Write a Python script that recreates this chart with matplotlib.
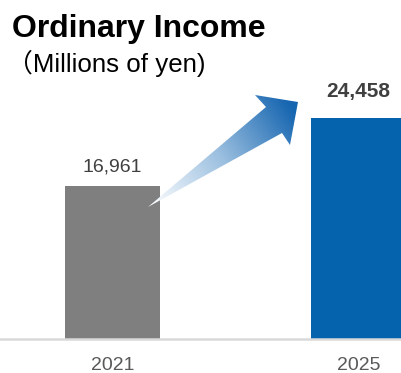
import numpy as np
import matplotlib
matplotlib.use('Agg')
import matplotlib.pyplot as plt
from matplotlib.patches import Polygon
from matplotlib.colors import LinearSegmentedColormap

plt.rcParams['font.family'] = ['Liberation Sans', 'Noto Sans CJK JP', 'DejaVu Sans']

# Data
years = ['2021', '2025']
income = [16961, 24458]
bar_colors = ['#7f7f7f', '#0563ae']

W, H = 401, 373
fig = plt.figure(figsize=(W / 100, H / 100), dpi=100)

# Main axes: bottom at baseline (y=339 px from top)
base_px = 339
ax = fig.add_axes([0, (H - base_px) / H, 1, base_px / H])
px_per_unit = 153 / 16961
ax.set_ylim(0, base_px / px_per_unit)
spacing = 246.0
ax.set_xlim(-112.5 / spacing, 1 + (W - 358.5) / spacing)
x = np.arange(len(years))
ax.bar(x, income, width=95 / spacing, color=bar_colors, zorder=2)
ax.axis('off')
ax.axhline(0, color='#d9d9d9', lw=1.8, zorder=3, clip_on=False)

# value labels
ax.text(x[0], income[0] + 14 / px_per_unit, f'{income[0]:,}', ha='center', va='baseline',
        fontsize=14, color='#404040')
ax.text(x[1], income[1] + 21 / px_per_unit, f'{income[1]:,}', ha='center', va='baseline',
        fontsize=15, color='#404040', fontweight='bold')

# year labels
for xi, yr in zip(x, years):
    ax.text(xi, -31 / px_per_unit, yr, ha='center', va='baseline', fontsize=14,
            color='#595959', clip_on=False)

# Overlay axes in pixel coordinates for titles and the gradient arrow
ov = fig.add_axes([0, 0, 1, 1])
ov.set_xlim(0, W)
ov.set_ylim(H, 0)
ov.axis('off')

ov.text(12, 37, 'Ordinary Income', fontsize=23, fontweight='bold', color='black',
        va='baseline', ha='left')
ov.text(7, 72, '（Millions of yen)', fontsize=18.6, color='black', va='baseline', ha='left')

# gradient arrow
arrow_pts = np.array([[148, 207], [266, 107], [255, 95], [298, 102],
                      [290, 145], [282, 133]])
tail = np.array([148, 207])
tip = np.array([294, 110])
d = (tip - tail) / np.linalg.norm(tip - tail)
gx, gy = np.meshgrid(np.arange(140, 305), np.arange(90, 215))
t = ((gx - tail[0]) * d[0] + (gy - tail[1]) * d[1]) / np.linalg.norm(tip - tail)
t = np.clip(t, 0, 1)
cmap = LinearSegmentedColormap.from_list('arr', ['#ffffff', '#9cc0e0', '#1565b0'])
im = ov.imshow(t, cmap=cmap, extent=(140, 305, 215, 90), origin='upper',
               aspect='auto', zorder=5, interpolation='bilinear')
poly = Polygon(arrow_pts, closed=True, facecolor='none', edgecolor='none')
ov.add_patch(poly)
im.set_clip_path(poly)
ov.set_xlim(0, W)
ov.set_ylim(H, 0)

fig.savefig('out.png', dpi=100)
